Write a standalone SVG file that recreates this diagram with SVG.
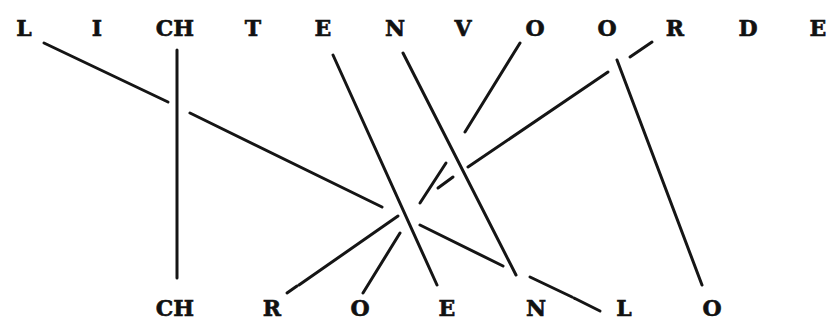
<svg xmlns="http://www.w3.org/2000/svg" width="832" height="327" viewBox="0 0 832 327">
<style>
.t{font-family:"DejaVu Serif","Liberation Serif",serif;font-weight:bold;font-size:22px;fill:#111;stroke:#111;stroke-width:0.6;text-anchor:middle}
.c line{stroke:#151515;stroke-width:3;stroke-linecap:round}
</style>
<rect width="832" height="327" fill="#fff"/>
<g id="top">
<g id="t-L"><text class="t" x="24" y="36">L</text></g>
<g id="t-I"><text class="t" x="97" y="36">I</text></g>
<g id="t-CH"><text class="t" x="175" y="36">CH</text></g>
<g id="t-T"><text class="t" x="253" y="36">T</text></g>
<g id="t-E1"><text class="t" x="323" y="36">E</text></g>
<g id="t-N"><text class="t" x="395" y="36">N</text></g>
<g id="t-V"><text class="t" x="463" y="36">V</text></g>
<g id="t-O1"><text class="t" x="535" y="36">O</text></g>
<g id="t-O2"><text class="t" x="607" y="36">O</text></g>
<g id="t-R"><text class="t" x="675" y="36">R</text></g>
<g id="t-D"><text class="t" x="748" y="36">D</text></g>
<g id="t-E2"><text class="t" x="818" y="36">E</text></g>
</g>
<g id="bottom">
<g id="b-CH"><text class="t" x="175" y="316">CH</text></g>
<g id="b-R"><text class="t" x="272" y="316">R</text></g>
<g id="b-O1"><text class="t" x="360" y="316">O</text></g>
<g id="b-E"><text class="t" x="447" y="316">E</text></g>
<g id="b-N"><text class="t" x="536" y="316">N</text></g>
<g id="b-L"><text class="t" x="624" y="316">L</text></g>
<g id="b-O2"><text class="t" x="712" y="316">O</text></g>
</g>
<g id="connectors" class="c">
<line x1="44" y1="43" x2="168" y2="102"/>
<line x1="190" y1="113" x2="382" y2="207"/>
<line x1="420" y1="225" x2="503" y2="266"/>
<line x1="530" y1="277" x2="572" y2="297"/>
<line x1="574" y1="298" x2="600" y2="311"/>
<line x1="177" y1="50" x2="177" y2="278"/>
<line x1="333" y1="55" x2="437" y2="285"/>
<line x1="403" y1="53" x2="516" y2="275"/>
<line x1="520" y1="43" x2="465" y2="132"/>
<line x1="446" y1="163" x2="420" y2="203"/>
<line x1="400" y1="233" x2="363" y2="293"/>
<line x1="652" y1="42" x2="630" y2="57"/>
<line x1="608" y1="72" x2="468" y2="167"/>
<line x1="453" y1="177" x2="438" y2="188"/>
<line x1="398" y1="216" x2="299" y2="285"/>
<line x1="297" y1="286" x2="287" y2="293"/>
<line x1="617" y1="60" x2="702" y2="285"/>
</g>
</svg>
